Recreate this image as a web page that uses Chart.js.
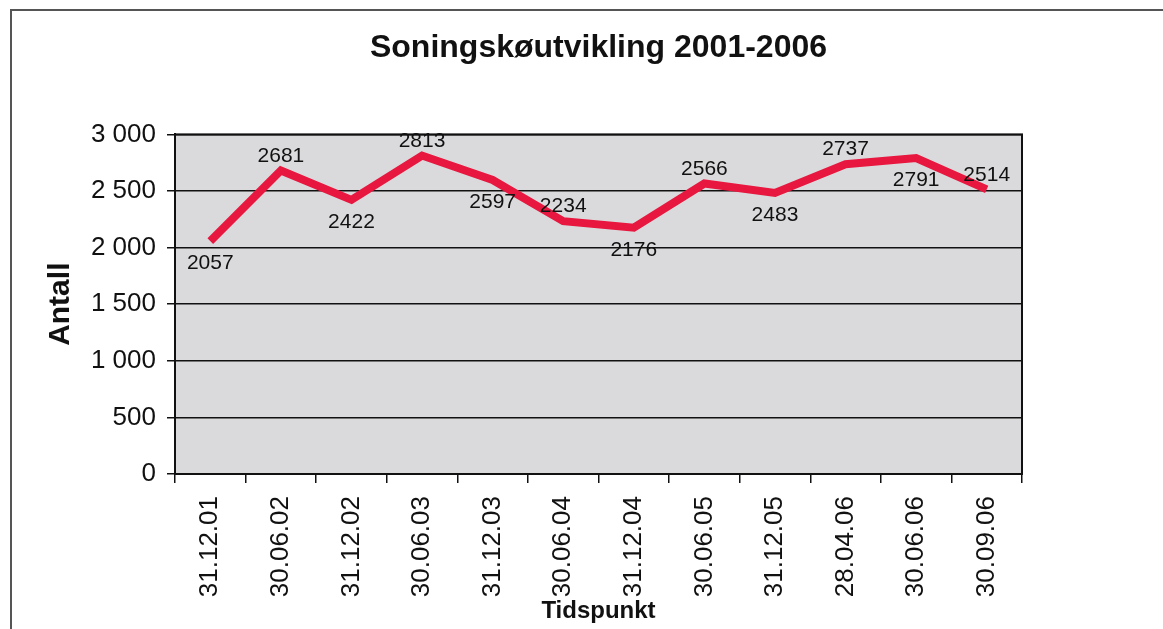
<!DOCTYPE html>
<html>
<head>
<meta charset="utf-8">
<script src="https://cdn.jsdelivr.net/npm/chart.js@4"></script>
<style>
body { margin: 0; background: #fff; overflow: hidden; }
#wrap { position: relative; width: 1163px; height: 629px; }
#frame { position: absolute; left: 10px; top: 9px; width: 1200px; height: 700px; border: 2px solid #555; }
canvas { position: absolute; left: 0; top: 0; }
</style>
</head>
<body>
<div id="wrap">
  <div id="frame"></div>
  <canvas id="queueChart" width="1163" height="629"></canvas>
</div>
<script>
var dates = ["31.12.01", "30.06.02", "31.12.02", "30.06.03", "31.12.03", "30.06.04",
             "31.12.04", "30.06.05", "31.12.05", "28.04.06", "30.06.06", "30.09.06"];
var antall = [2057, 2681, 2422, 2813, 2597, 2234, 2176, 2566, 2483, 2737, 2791, 2514];
var yTicks = [0, 500, 1000, 1500, 2000, 2500, 3000];

var fontName = "'Liberation Sans', Arial, sans-serif";

// grey plot area with black frame
var plotBox = {
  id: "plotBox",
  beforeDraw: (chart) => {
    var a = chart.chartArea;
    var ctx = chart.ctx;
    ctx.save();
    ctx.fillStyle = "#dadadc";
    ctx.fillRect(a.left, a.top, a.right - a.left, a.bottom - a.top);
    ctx.restore();
  },
  beforeDatasetsDraw: (chart) => {
    var a = chart.chartArea;
    var ctx = chart.ctx;
    ctx.save();
    ctx.strokeStyle = "#111";
    ctx.lineWidth = 2;
    ctx.strokeRect(a.left, a.top, a.right - a.left, a.bottom - a.top);
    ctx.restore();
  }
};

// value labels, alternating below / above the line
var valueLabels = {
  id: "valueLabels",
  afterDatasetsDraw: (chart) => {
    var ctx = chart.ctx;
    var meta = chart.getDatasetMeta(0);
    var values = chart.data.datasets[0].data;
    ctx.save();
    ctx.font = "21px " + fontName;
    ctx.fillStyle = "#111";
    ctx.textAlign = "center";
    for (var i = 0; i < meta.data.length; i++) {
      var p = meta.data[i];
      if (i % 2 == 0) {
        ctx.textBaseline = "top";
        ctx.fillText(values[i], p.x, p.y + 12);
      } else {
        ctx.textBaseline = "bottom";
        ctx.fillText(values[i], p.x, p.y - 4);
      }
    }
    ctx.restore();
  }
};

new Chart("queueChart", {
  type: "line",
  data: {
    labels: dates,
    datasets: [{
      label: "Antall",
      data: antall,
      borderColor: "#e8173f",
      borderWidth: 8,
      pointRadius: 0,
      tension: 0
    }]
  },
  options: {
    responsive: false,
    animation: false,
    layout: { padding: { left: 12, right: 141, top: 0, bottom: 0 } },
    plugins: {
      legend: { display: false },
      tooltip: { enabled: false },
      title: {
        display: true,
        text: "Soningskøutvikling 2001-2006",
        fullSize: false,
        color: "#111",
        font: { family: fontName, size: 32, weight: "bold" },
        padding: { top: 29, bottom: 67 }
      }
    },
    scales: {
      x: {
        offset: true,
        afterFit: (scale) => { scale.height = 155; },
        grid: {
          offset: true,
          drawOnChartArea: false,
          drawTicks: true,
          tickLength: 9,
          color: "#111",
          lineWidth: 1.5
        },
        border: { color: "#111", width: 2 },
        ticks: {
          minRotation: 90,
          maxRotation: 90,
          autoSkip: false,
          padding: 13,
          color: "#111",
          font: { family: fontName, size: 26 }
        },
        title: {
          display: true,
          text: "Tidspunkt",
          color: "#111",
          font: { family: fontName, size: 24, weight: "bold" },
          padding: { top: 0, bottom: 3 }
        }
      },
      y: {
        min: 0,
        max: 3000,
        afterFit: (scale) => { scale.width = 163; },
        afterBuildTicks: (scale) => {
          scale.ticks = yTicks.map((v) => ({ value: v }));
        },
        grid: {
          color: "#111",
          lineWidth: 1.5,
          tickLength: 8
        },
        border: { color: "#111", width: 2 },
        ticks: {
          padding: 11,
          color: "#111",
          font: { family: fontName, size: 26 },
          callback: (v) => String(v).replace(/\B(?=(\d{3})+(?!\d))/g, " ")
        },
        title: {
          display: true,
          text: "Antall",
          color: "#111",
          font: { family: fontName, size: 30, weight: "bold" },
          padding: { top: 31, bottom: 0 }
        }
      }
    }
  },
  plugins: [plotBox, valueLabels]
});
</script>
</body>
</html>
